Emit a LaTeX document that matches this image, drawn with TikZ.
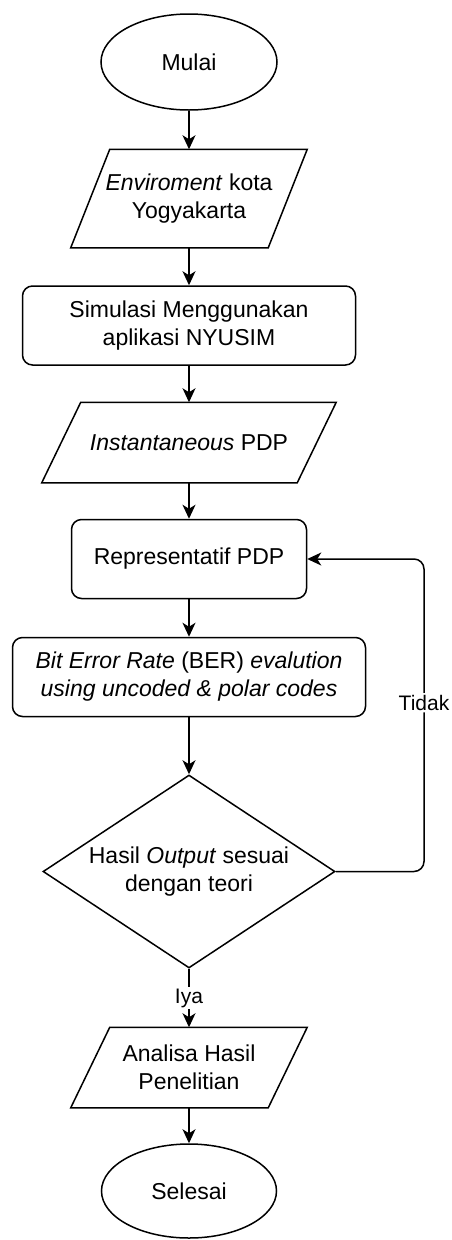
\documentclass[tikz,border=0pt]{standalone}
\usepackage{fontspec}
\setmainfont{Liberation Sans}
\usetikzlibrary{shapes.geometric, arrows.meta}

\begin{document}
\begin{tikzpicture}[x=1pt, y=-1pt, line width=1.5pt,
  font=\fontsize{23}{28}\selectfont,
  term/.style={draw, ellipse, minimum width=176pt, minimum height=96pt, inner sep=0pt},
  proc/.style={draw, rounded corners=10pt, minimum height=79pt, inner sep=0pt, align=center},
  io/.style={minimum height=#1, inner sep=0pt, align=center},
  arr/.style={-{Stealth[length=14pt, width=13pt, inset=4pt]}},
  lbl/.style={fill=white, font=\fontsize{21}{25}\selectfont, inner sep=2pt}]
\useasboundingbox (0,0) rectangle (452,1240);
\node[term] (mulai) at (189,62) {Mulai};
\node[io=97pt, minimum width=196pt] (env) at (189,198.5) {\textit{Enviroment} kota\\Yogyakarta};
\node[proc, minimum width=333pt] (sim) at (189,325.5) {Simulasi Menggunakan\\aplikasi NYUSIM};
\node[io=79pt, minimum width=254pt] (inst) at (189,442.5) {\textit{Instantaneous} PDP};
\node[proc, minimum width=235pt] (rep) at (189,559) {Representatif PDP};
\node[proc, minimum width=353pt] (ber) at (189,677) {\textit{Bit Error Rate} (BER) \textit{evalution}\\\textit{using uncoded \& polar codes}};
\node[draw, diamond, aspect=1.5, minimum width=292pt, minimum height=193pt, inner sep=0pt, align=center] (dec) at (189,871.5) {Hasil \textit{Output} sesuai\\dengan teori};
\node[io=79pt, minimum width=196pt] (anl) at (189,1067.5) {Analisa Hasil\\Penelitian};
\node[term, minimum width=175pt, minimum height=94pt] (selesai) at (189,1191) {Selesai};
\foreach \n in {env, inst, anl}
  \draw ([xshift=19.5pt]\n.north west) -- ([xshift=19.5pt]\n.north east) -- ([xshift=-19.5pt]\n.south east) -- ([xshift=-19.5pt]\n.south west) -- cycle;
\draw[arr] (mulai) -- (env);
\draw[arr] (env) -- (sim);
\draw[arr] (sim) -- (inst);
\draw[arr] (inst) -- (rep);
\draw[arr] (rep) -- (ber);
\draw[arr] (ber) -- (dec);
\draw[arr] (dec) -- node[lbl] (iya) {Iya} (anl);
\draw[arr] (anl) -- (selesai);
\coordinate (back) at (424,559);
\draw[arr, rounded corners=10pt] (dec.east) -| node[lbl, pos=0.77] (tidak) {Tidak} (back) -- (rep.east);
\end{tikzpicture}
\end{document}
